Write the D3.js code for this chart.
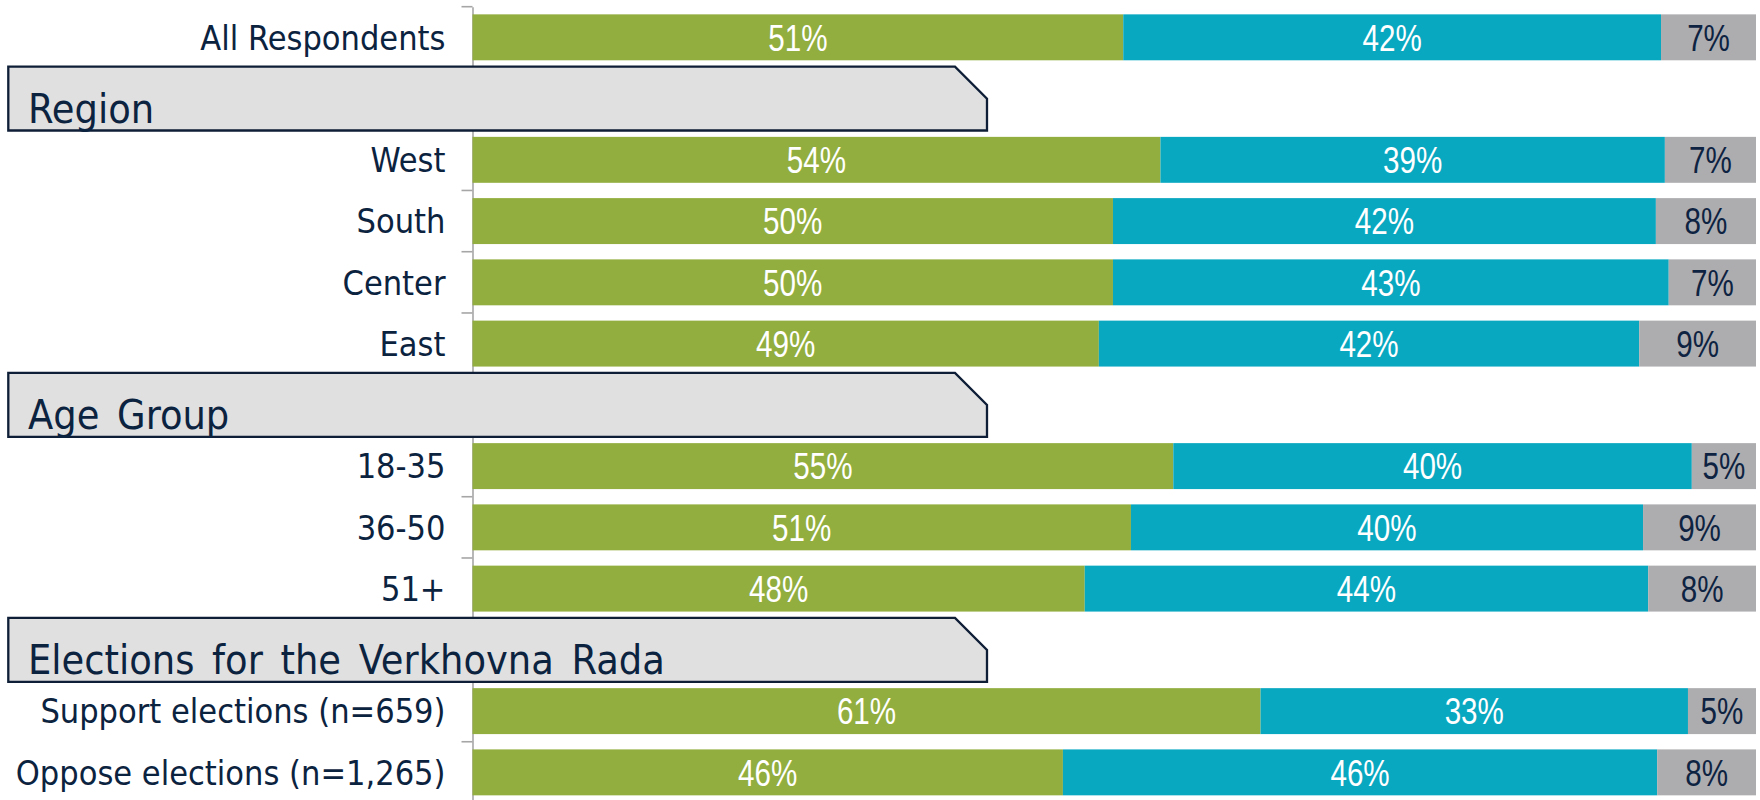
<!DOCTYPE html>
<html>
<head>
<meta charset="utf-8">
<script src="https://cdn.jsdelivr.net/npm/d3@7"></script>
<style>
  html, body { margin: 0; padding: 0; background: #ffffff; }
  svg { display: block; }
</style>
</head>
<body>
<svg id="chart" width="1760" height="800"></svg>
<script>
// ---- Data ----
const rowOrder = [
  "All Respondents",
  "Region",
  "West", "South", "Center", "East",
  "Age Group",
  "18-35", "36-50", "51+",
  "Elections for the Verkhovna Rada",
  "Support elections (n=659)", "Oppose elections (n=1,265)"
];
const headers = ["Region", "Age Group", "Elections for the Verkhovna Rada"];
const barCats = [
  "All Respondents", "West", "South", "Center", "East",
  "18-35", "36-50", "51+",
  "Support elections (n=659)", "Oppose elections (n=1,265)"
];
const greenVals = [50.7, 53.6, 49.9, 49.9, 48.8, 54.6, 51.3, 47.7, 61.4, 46.0];
const blueVals  = [41.9, 39.3, 42.3, 43.3, 42.1, 40.4, 39.9, 43.9, 33.3, 46.3];
const grayVals  = [7.4, 7.1, 7.8, 6.8, 9.1, 5.0, 8.8, 8.4, 5.3, 7.7];
const greenLbl = ["51%","54%","50%","50%","49%","55%","51%","48%","61%","46%"];
const blueLbl  = ["42%","39%","42%","43%","42%","40%","40%","44%","33%","46%"];
const grayLbl  = ["7%","7%","8%","7%","9%","5%","9%","8%","5%","8%"];

const seriesKeys = ["green", "blue", "gray"];
const seriesColors = { green: "#92AE3E", blue: "#09A8C1", gray: "#ADADB0" };
const labelColors = { green: "#ffffff", blue: "#ffffff", gray: "#0E2341" };

const table = barCats.map((c, i) => ({
  cat: c,
  green: greenVals[i], blue: blueVals[i], gray: grayVals[i],
  lbl: { green: greenLbl[i], blue: blueLbl[i], gray: grayLbl[i] }
}));

// ---- Layout ----
const svg = d3.select("#chart");
const x0 = 472.5, x1 = 1756;
const x = d3.scaleLinear().domain([0, 100]).range([x0, x1]);
const y = d3.scaleBand().domain(rowOrder).range([6.7, 803])
  .paddingInner(0.25).paddingOuter(0.125);
const gap = (y.step() - y.bandwidth()) / 2;

const stack = d3.stack().keys(seriesKeys)(table);

// Axis (category labels only for bar rows)
const axis = svg.append("g")
  .attr("transform", `translate(${x0},0)`)
  .call(d3.axisLeft(y).tickValues(barCats).tickSize(0).tickSizeOuter(0).tickPadding(27));
axis.select(".domain").attr("stroke", "#A6A6A6").attr("stroke-width", 1.6);
axis.selectAll(".tick text")
  .attr("font-family", "'DejaVu Sans Condensed', 'DejaVu Sans', sans-serif")
  .attr("font-size", 34)
  .attr("fill", "#0C2340")
  .attr("dy", "0.36em");

// Tick marks between categories
const boundaries = rowOrder.map(r => y(r) - gap);
svg.append("g").selectAll("line").data(boundaries).join("line")
  .attr("x1", x0 - 11).attr("x2", x0)
  .attr("y1", d => d).attr("y2", d => d)
  .attr("stroke", "#A6A6A6").attr("stroke-width", 1.6);

// Bars
const layers = svg.append("g").selectAll("g").data(stack).join("g")
  .attr("fill", d => seriesColors[d.key]);
layers.selectAll("rect").data(d => d).join("rect")
  .attr("x", d => x(d[0]))
  .attr("width", d => x(d[1]) - x(d[0]))
  .attr("y", d => y(d.data.cat))
  .attr("height", y.bandwidth());

// Value labels (horizontally condensed to mimic the narrow original face)
const lblLayers = svg.append("g").selectAll("g").data(stack).join("g")
  .attr("fill", d => labelColors[d.key]);
lblLayers.each(function(s) {
  d3.select(this).selectAll("text").data(s).join("text")
    .attr("transform", d => `translate(${(x(d[0]) + x(d[1])) / 2},${y(d.data.cat) + y.bandwidth() / 2}) scale(0.8,1)`)
    .attr("dy", "0.36em")
    .attr("text-anchor", "middle")
    .attr("font-family", "'Liberation Sans', Arial, sans-serif")
    .attr("font-size", 37)
    .text(d => d.data.lbl[s.key]);
});

// Section header boxes
const bx0 = 8.3, bx1 = 987, chamfer = 32;
const hg = svg.append("g").selectAll("g").data(headers).join("g");
hg.append("path")
  .attr("d", h => {
    const top = y(h) - gap - 1.3;
    const bot = y(h) + y.bandwidth() + gap + 1.3;
    return `M${bx0},${top} L${bx1 - chamfer},${top} L${bx1},${top + chamfer} L${bx1},${bot} L${bx0},${bot} Z`;
  })
  .attr("fill", "#E0E0E0")
  .attr("stroke", "#0E1E36")
  .attr("stroke-width", 2.3);
hg.append("text")
  .attr("x", 28)
  .attr("y", h => y(h) + y.bandwidth() + gap + 1.3 - 7.5)
  .attr("font-family", "'DejaVu Sans Condensed', 'DejaVu Sans', sans-serif")
  .attr("font-size", 41)
  .attr("word-spacing", 6)
  .attr("fill", "#0C2340")
  .text(h => h);
</script>
</body>
</html>
